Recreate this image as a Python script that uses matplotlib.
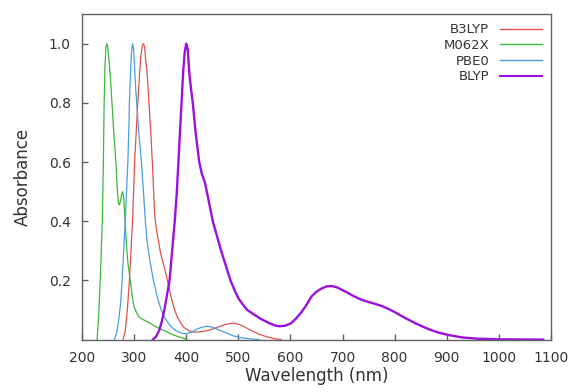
import matplotlib
matplotlib.use("Agg")
import matplotlib.pyplot as plt

# Wavelength (nm) / normalised absorbance
b3lyp_x = [279, 283, 287, 291, 294, 297, 299, 301, 304, 307, 310.5, 313, 316, 318,
           320, 322, 325, 328.5, 332, 335, 337.5, 339.5, 343, 347, 351, 357, 364,
           370, 376, 382, 388, 395, 405, 415, 425, 440, 455, 470, 480, 490, 500,
           510, 520, 530, 540, 550, 560, 570, 582]
b3lyp_y = [0.0, 0.03, 0.1, 0.2, 0.3, 0.4, 0.5, 0.6, 0.7, 0.8, 0.9, 0.96, 0.995, 1.0,
           0.99, 0.95, 0.9, 0.8, 0.7, 0.6, 0.5, 0.42, 0.37, 0.33, 0.29, 0.25, 0.2,
           0.15, 0.11, 0.08, 0.06, 0.042, 0.03, 0.025, 0.026, 0.03, 0.038, 0.048,
           0.053, 0.056, 0.052, 0.045, 0.035, 0.026, 0.018, 0.012, 0.007, 0.003, 0.0]

m062x_x = [229, 232, 235, 237, 239, 241, 242.5, 244, 246, 248, 250, 252, 254, 257.5,
           261, 265, 268, 270, 272, 274, 276, 278, 280, 282, 285, 288, 291, 294,
           297, 300, 305, 310, 320, 330, 340, 350, 362, 375, 385, 396, 402]
m062x_y = [0.0, 0.08, 0.2, 0.3, 0.4, 0.6, 0.8, 0.92, 0.99, 1.0, 0.98, 0.94, 0.9, 0.8,
           0.7, 0.6, 0.5, 0.46, 0.455, 0.47, 0.49, 0.5, 0.48, 0.42, 0.33, 0.26, 0.22,
           0.18, 0.14, 0.11, 0.09, 0.075, 0.065, 0.056, 0.045, 0.036, 0.027, 0.016,
           0.01, 0.004, 0.0]

pbe0_x = [262, 266, 270, 274, 277, 280, 283, 286, 288, 290, 291, 293, 295, 297,
          299, 301.5, 303, 305, 309, 314, 318, 321.5, 325, 330, 337, 345, 352, 360,
          370, 380, 390, 400, 410, 420, 430, 440, 450, 460, 470, 480, 490, 500,
          520, 540]
pbe0_y = [0.0, 0.02, 0.06, 0.12, 0.2, 0.3, 0.4, 0.52, 0.6, 0.72, 0.8, 0.9, 0.97, 1.0,
          0.98, 0.9, 0.85, 0.8, 0.7, 0.6, 0.5, 0.4, 0.33, 0.27, 0.2, 0.14, 0.1, 0.07,
          0.045, 0.03, 0.022, 0.02, 0.025, 0.035, 0.042, 0.045, 0.042, 0.035, 0.027,
          0.02, 0.013, 0.008, 0.003, 0.0]

blyp_x = [336, 342, 348, 353, 358, 363, 368, 373, 378, 382, 385, 388, 391, 394, 397,
          400, 403, 406, 409, 412.6, 418, 425, 430, 436, 443, 451, 459, 467, 476,
          485, 492, 500, 508, 517, 530, 543, 560, 570, 578, 590, 601, 610, 620, 630,
          640, 650, 660, 670, 680, 690, 700, 710, 720, 737, 750, 760, 776, 790, 800,
          810, 820, 830, 840, 855, 870, 885, 905, 930, 960, 1000, 1085]
blyp_y = [0.0, 0.01, 0.03, 0.06, 0.1, 0.15, 0.2, 0.3, 0.4, 0.5, 0.6, 0.7, 0.8, 0.9,
          0.97, 1.0, 0.98, 0.9, 0.85, 0.8, 0.7, 0.6, 0.56, 0.53, 0.47, 0.4, 0.35,
          0.3, 0.25, 0.2, 0.17, 0.14, 0.12, 0.1, 0.085, 0.07, 0.055, 0.048, 0.045,
          0.047, 0.055, 0.07, 0.09, 0.115, 0.145, 0.162, 0.173, 0.18, 0.181, 0.176,
          0.167, 0.158, 0.148, 0.134, 0.127, 0.122, 0.113, 0.102, 0.093, 0.083,
          0.073, 0.064, 0.055, 0.043, 0.032, 0.023, 0.015, 0.007, 0.003, 0.001, 0.0]

x_ticks = [200, 300, 400, 500, 600, 700, 800, 900, 1000, 1100]
y_ticks = [0.2, 0.4, 0.6, 0.8, 1.0]

SPINE_C = "#606060"
TEXT_C = "#333333"

fig = plt.figure(figsize=(5.71, 3.92), dpi=100)
ax = fig.add_axes([0.1436, 0.1337, 0.8214, 0.8304])

ax.plot(b3lyp_x, b3lyp_y, color="#e05050", lw=0.9, label="B3LYP")
ax.plot(m062x_x, m062x_y, color="#3cb83c", lw=0.9, label="M062X")
ax.plot(pbe0_x, pbe0_y, color="#4a9ee0", lw=0.9, label="PBE0")
ax.plot(blyp_x, blyp_y, color="#9b10e0", lw=1.7, label="BLYP")

ax.set_xlim(200, 1100)
ax.set_ylim(0, 1.1)
ax.set_xticks(x_ticks)
ax.set_yticks(y_ticks)
ax.set_yticklabels([f"{v:.1f}" for v in y_ticks])

ax.tick_params(direction="in", length=4, width=1, colors=SPINE_C,
               labelcolor=TEXT_C, labelsize=10, pad=8)
for s in ax.spines.values():
    s.set_color(SPINE_C)
    s.set_linewidth(1.0)

ax.set_xlabel("Wavelength (nm)", fontsize=12, color=TEXT_C, labelpad=2)
ax.set_ylabel("Absorbance", fontsize=12, color=TEXT_C, labelpad=12)

leg = ax.legend(loc="upper right", frameon=False, markerfirst=False,
                fontsize=9.5, handlelength=3.2, handletextpad=0.8,
                labelspacing=0.2, borderaxespad=0.3)
for t in leg.get_texts():
    t.set_color(TEXT_C)
for h in leg.legend_handles:
    h.set_linewidth(1.0 if h.get_label() != "BLYP" else 1.5)

fig.savefig("out.png", dpi=100, facecolor="white")
